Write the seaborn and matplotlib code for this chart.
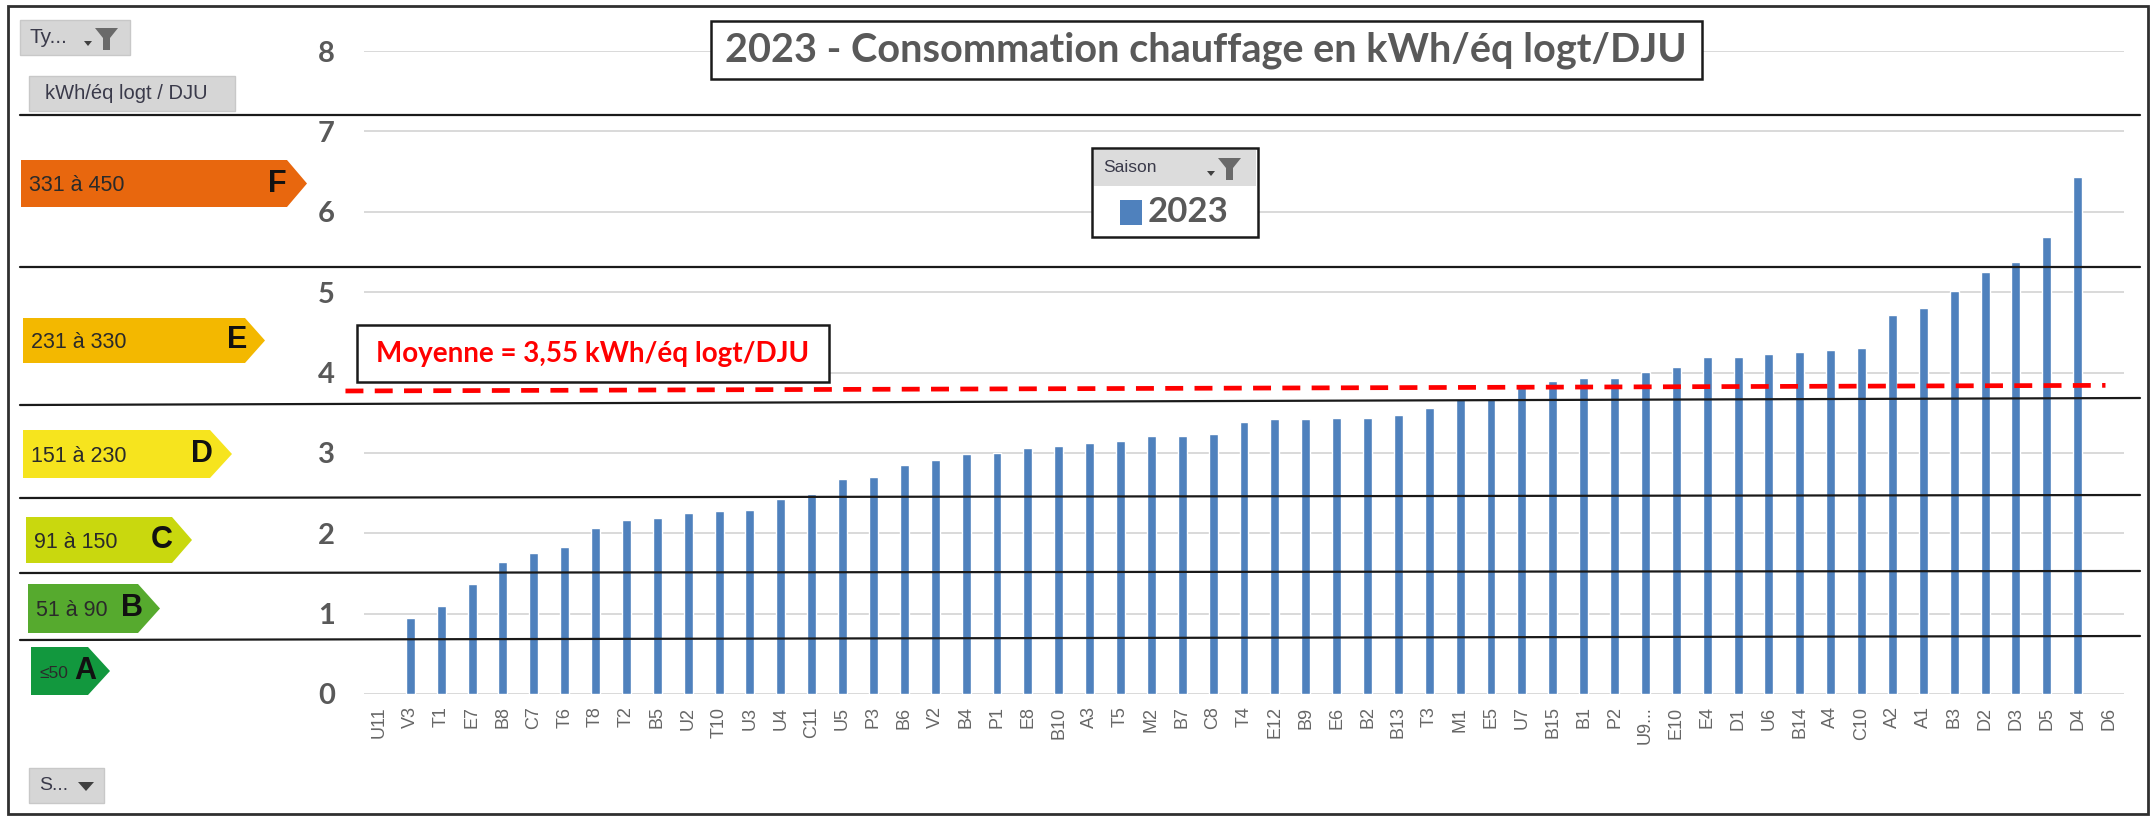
'''
Consommation chauffage 2023 par batiment (kWh/eq logt/DJU),
barres triees + etiquettes de classes energetiques a gauche.
'''

import matplotlib
matplotlib.use('Agg')
import matplotlib.pyplot as plt
from matplotlib.patches import Polygon, Rectangle
import seaborn as sns
import pandas as pd
import numpy as np

# Donnees
batiments = ['U11', 'V3', 'T1', 'E7', 'B8', 'C7', 'T6', 'T8', 'T2', 'B5',
             'U2', 'T10', 'U3', 'U4', 'C11', 'U5', 'P3', 'B6', 'V2', 'B4',
             'P1', 'E8', 'B10', 'A3', 'T5', 'M2', 'B7', 'C8', 'T4', 'E12',
             'B9', 'E6', 'B2', 'B13', 'T3', 'M1', 'E5', 'U7', 'B15', 'B1',
             'P2', 'U9...', 'E10', 'E4', 'D1', 'U6', 'B14', 'A4', 'C10', 'A2',
             'A1', 'B3', 'D2', 'D3', 'D5', 'D4', 'D6']
conso = [np.nan, 0.95, 1.10, 1.37, 1.64, 1.76, 1.83, 2.07, 2.16, 2.19,
         2.25, 2.28, 2.29, 2.42, 2.49, 2.67, 2.70, 2.85, 2.91, 2.98,
         3.00, 3.06, 3.09, 3.12, 3.15, 3.21, 3.21, 3.24, 3.39, 3.42,
         3.42, 3.44, 3.44, 3.47, 3.56, 3.67, 3.67, 3.83, 3.90, 3.93,
         3.93, 4.01, 4.07, 4.19, 4.19, 4.23, 4.25, 4.28, 4.31, 4.71,
         4.80, 5.01, 5.25, 5.37, 5.68, 6.43, np.nan]
moyenne_txt = 'Moyenne = 3,55 kWh/éq logt/DJU'
moyenne_trait = [3.77, 3.84]   # trait rouge tel que dessine (gauche, droite)
saison = '2023'
titre = '2023 - Consommation chauffage en kWh/éq logt/DJU'

classes = ['F', 'E', 'D', 'C', 'B', 'A']
plages = ['331 à 450', '231 à 330', '151 à 230', '91 à 150', '51 à 90', '≤50']
couleurs_classes = ['#E8670E', '#F3B800', '#F6E41E', '#C9D80E', '#56AA2E', '#12983E']

BLEU = '#4F81BD'
GRIS_TXT = '#595959'
W, H = 2152, 819


def main():
    sns.set_theme(style='white')
    plt.rcParams['font.family'] = ['Lato', 'DejaVu Sans']

    fig = plt.figure(figsize=(W / 100, H / 100), dpi=100)
    ax = fig.add_axes([364 / W, 1 - 694 / H, (2124 - 364) / W, (694 - 51) / H])

    df = pd.DataFrame({'batiment': batiments, 'conso': conso})
    sns.barplot(data=df, x='batiment', y='conso', order=batiments, color=BLEU,
                saturation=1, width=0.29, errorbar=None, ax=ax)

    ax.set_xlim(-0.5, len(batiments) - 0.5)
    ax.set_ylim(0, 8)
    ax.set_yticks(range(9))
    ax.set_xlabel('')
    ax.set_ylabel('')
    ax.yaxis.grid(True, color='#D9D9D9', lw=1.4)
    ax.set_axisbelow(True)
    sns.despine(ax=ax, left=True, bottom=True)
    ax.tick_params(axis='y', length=0, pad=21, labelsize=21, labelcolor=GRIS_TXT)
    ax.tick_params(axis='x', length=0, pad=9, labelsize=13, labelcolor='#666666')
    for lab in ax.get_yticklabels():
        lab.set_fontweight('bold')
    for lab in ax.get_xticklabels():
        lab.set_rotation(90)
        lab.set_family('Liberation Sans')

    # ligne de moyenne (pointillés rouges)
    ax.plot([-1.1, len(batiments) - 1.1], moyenne_trait, color='#FF0000', lw=3.4,
            linestyle=(0, (3.8, 2.4)), clip_on=False, zorder=4)

    # calque en pixels pour les elements ajoutes a la main
    ov = fig.add_axes([0, 0, 1, 1], zorder=3)
    ov.set_xlim(0, W)
    ov.set_ylim(H, 0)
    ov.axis('off')

    # cadre exterieur
    ov.add_patch(Rectangle((8, 6), 2140, 808, fill=False, ec='#303030', lw=2))

    # separateurs de classes
    for yl, yr in [(115, 115), (267, 267), (405, 398), (498, 495),
                   (573, 571), (640, 636)]:
        ov.plot([20, 2140], [yl, yr], color='#1a1a1a', lw=1.6)

    # fleches de classes energetiques
    geom = [(21, 287, 307, 160, 207, 277), (23, 245, 265, 318, 363, 237),
            (23, 210, 232, 430, 478, 202), (26, 172, 192, 517, 563, 162),
            (28, 138, 160, 584, 633, 132), (31, 88, 110, 647, 695, 85)]
    for (x0, xn, xt, y0, y1, xl), lettre, plage, coul in zip(
            geom, classes, plages, couleurs_classes):
        ym = (y0 + y1) / 2
        ov.add_patch(Polygon([(x0, y0), (xn, y0), (xt, ym), (xn, y1), (x0, y1)],
                             closed=True, fc=coul, ec='none'))
        ov.text(x0 + 8, ym + 2, plage, fontsize=15.5 if lettre != 'A' else 12.5,
                family='Liberation Sans', color='#2a2a2a', va='center', ha='left')
        ov.text(xl, ym, lettre, fontsize=22, fontweight='bold',
                family='Liberation Sans', color='#111111', va='center', ha='center')

    # boutons de filtre (style tableau croise)
    def bouton(x, y, w, h, texte, fs, dx=10):
        ov.add_patch(Rectangle((x, y), w, h, fc='#D6D6D6', ec='#C8C8C8', lw=1))
        ov.text(x + dx, y + h / 2, texte, fontsize=fs, family='Liberation Sans',
                color='#3a3a4a', va='center', ha='left')

    def entonnoir(x, y):
        ov.add_patch(Polygon([(x, y), (x + 23, y), (x + 15, y + 10), (x + 15, y + 22),
                              (x + 8, y + 22), (x + 8, y + 10)], fc='#6a6a6a', ec='none'))
        ov.add_patch(Polygon([(x - 11, y + 13), (x - 3, y + 13), (x - 7, y + 18)],
                             fc='#404040', ec='none'))

    bouton(20, 20, 110, 35, 'Ty...', 15)
    entonnoir(95, 28)
    bouton(29, 76, 206, 35, 'kWh/éq logt / DJU', 14.5, dx=16)
    bouton(29, 768, 75, 35, 'S...', 14)
    ov.add_patch(Polygon([(78, 782), (94, 782), (86, 791)], fc='#404040', ec='none'))

    # titre encadre
    ov.add_patch(Rectangle((711, 21), 991, 58, fc='white', ec='#1a1a1a', lw=1.8))
    ov.text(1206, 50, titre, fontsize=28.5, fontweight='bold', color=GRIS_TXT,
            ha='center', va='center')

    # legende "Saison"
    ov.add_patch(Rectangle((1092, 148), 166, 89, fc='white', ec='#1a1a1a', lw=1.8))
    ov.add_patch(Rectangle((1094, 150), 162, 36, fc='#DCDCDC', ec='none'))
    ov.text(1103, 168, 'Saison', fontsize=12.5, family='Liberation Sans',
            color='#3a3a4a', ha='left', va='center')
    entonnoir(1218, 158)
    ov.add_patch(Rectangle((1120, 200), 22, 25, fc=BLEU, ec='none'))
    ov.text(1148, 212, saison, fontsize=25, fontweight='bold', color=GRIS_TXT,
            ha='left', va='center')

    # encadre moyenne
    ov.add_patch(Rectangle((357, 325), 472, 57, fc='white', ec='#1a1a1a', lw=1.8))
    ov.text(593, 354, moyenne_txt, fontsize=20, fontweight='bold', color='#FF0000',
            ha='center', va='center')

    fig.savefig('out.png', dpi=100)


if __name__ == '__main__':
    main()
